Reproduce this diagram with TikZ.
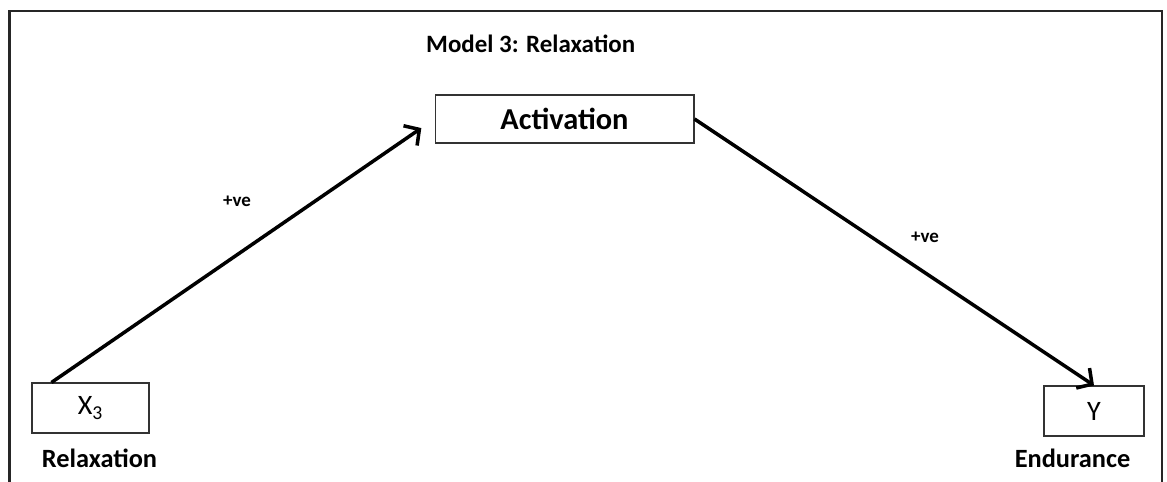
\documentclass[tikz,border=0pt]{standalone}
\usepackage{fontspec}
\setmainfont{Carlito}
\usepackage{tikz}
\usetikzlibrary{positioning, arrows.meta}

\begin{document}
\begin{tikzpicture}[x=0.02cm, y=-0.02cm,
        varbox/.style={
                draw=black!80,
                line width=0.6pt,
                inner sep=0pt,
        },
        link/.style={
                line width=2pt,
                -{Straight Barb[length=2.2mm, width=4.8mm, line width=2pt]},
        },
        sign/.style={font=\fontsize{10.8}{12}\selectfont\bfseries},
        caption/.style={font=\fontsize{15}{17}\selectfont\bfseries, anchor=base},
        ]
            \useasboundingbox (0, 0) rectangle (1167, 482);
            % frame, open at the bottom
            \draw[line width=1.2pt, black!85] (9.5, 482) -- (9.5, 11) -- (1162, 11) -- (1162, 482);

            \node[anchor=base west, font=\fontsize{14.2}{16}\selectfont\bfseries] (title) at (420, 53) {Model 3: Relaxation};

            \node[varbox, minimum width=5.18cm, minimum height=0.96cm, font=\fontsize{17.3}{19}\selectfont\bfseries] (act) at (564.5, 119) {Activation};
            \node[varbox, minimum width=2.34cm, minimum height=1cm, font=\fontsize{16}{18}\selectfont] (x3) at (90.5, 408) {X\textsubscript{3}};
            \node[varbox, minimum width=2cm, minimum height=1cm, font=\fontsize{16}{18}\selectfont] (y) at (1094, 411) {Y};

            \node[caption] (xlabel) at (99.5, 468) {Relaxation};
            \node[caption] (ylabel) at (1072.5, 468) {Endurance};

            \draw[link, shorten >=0.32cm] ([xshift=0.4cm]x3.north west) -- (act.west);
            \draw[link] (act.east) -- (y.north);

            \node[sign] (s1) at (237, 201) {+ve};
            \node[sign] (s2) at (925, 237) {+ve};
        \end{tikzpicture}
\end{document}
